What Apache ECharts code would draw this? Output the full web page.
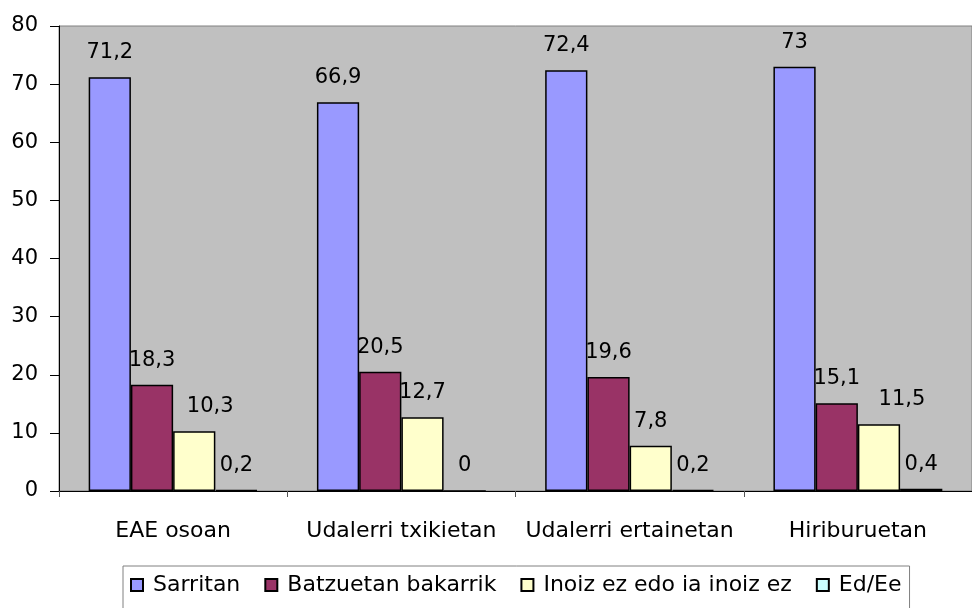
<!DOCTYPE html>
<html>
<head>
<meta charset="utf-8">
<script src="https://cdn.jsdelivr.net/npm/echarts@6/dist/echarts.min.js"></script>
<style>
  html, body { margin: 0; padding: 0; background: #fff; }
  #container { width: 972px; height: 608px; }
</style>
</head>
<body>
<div id="container"></div>
<script>
var categories = ['EAE osoan', 'Udalerri txikietan', 'Udalerri ertainetan', 'Hiriburuetan'];
var sarritan = [71.2, 66.9, 72.4, 73];
var batzuetan = [18.3, 20.5, 19.6, 15.1];
var inoiz = [10.3, 12.7, 7.8, 11.5];
var edEe = [0.2, 0, 0.2, 0.4];
var seriesNames = ['Sarritan', 'Batzuetan bakarrik', 'Inoiz ez edo ia inoiz ez', 'Ed/Ee'];

var dom = document.getElementById('container');
var myChart = echarts.init(dom);
var font = 'DejaVu Sans';

// label nudges to the right, like the original picture
var inoizShift = [16, 0, 0, 23];

function fmt(p) {
    return String(p.value).replace('.', ',');
}

function makeSeries(name, values, color, shifts) {
    return {
        name: name,
        type: 'bar',
        barGap: '0%',
        barCategoryGap: '26%',
        itemStyle: { color: color, borderColor: '#000', borderWidth: 1.5 },
        label: {
            show: true,
            position: 'top',
            distance: 14,
            color: '#000',
            fontFamily: font,
            fontSize: 21,
            formatter: fmt
        },
        data: values.map(function (v, i) {
            if (shifts && shifts[i]) {
                return { value: v, label: { offset: [shifts[i], 0] } };
            }
            return v;
        })
    };
}

var option = {
    animation: false,
    backgroundColor: '#fff',
    textStyle: { fontFamily: font },
    grid: {
        left: 59,
        top: 26,
        width: 916,
        bottom: 117,
        show: true,
        backgroundColor: '#c0c0c0',
        borderColor: '#808080',
        borderWidth: 1
    },
    legend: {
        top: 566,
        left: 123,
        padding: [8, 8, 30, 7],
        borderColor: '#808080',
        borderWidth: 1,
        itemWidth: 12,
        itemHeight: 12,
        itemGap: 24,
        icon: 'rect',
        textStyle: { fontFamily: font, fontSize: 22, color: '#000', padding: [0, 0, 0, 5] },
        data: seriesNames
    },
    xAxis: {
        type: 'category',
        data: categories,
        axisLine: { lineStyle: { color: '#000', width: 1 } },
        axisTick: { show: true, length: 6, lineStyle: { color: '#555' } },
        axisLabel: { interval: 0, margin: 29, color: '#000', fontFamily: font, fontSize: 22 },
        splitLine: { show: false }
    },
    yAxis: {
        type: 'value',
        min: 0,
        max: 80,
        interval: 10,
        axisLine: { show: true, lineStyle: { color: '#000', width: 1 } },
        axisTick: { show: true, length: 9, lineStyle: { color: '#000' } },
        axisLabel: { margin: 21, color: '#000', fontFamily: font, fontSize: 21 },
        splitLine: { show: false }
    },
    series: [
        makeSeries(seriesNames[0], sarritan, '#9999ff'),
        makeSeries(seriesNames[1], batzuetan, '#993366'),
        makeSeries(seriesNames[2], inoiz, '#ffffcc', inoizShift),
        makeSeries(seriesNames[3], edEe, '#ccffff')
    ]
};

if (option && typeof option === 'object') {
    myChart.setOption(option, true);
}
</script>
</body>
</html>
